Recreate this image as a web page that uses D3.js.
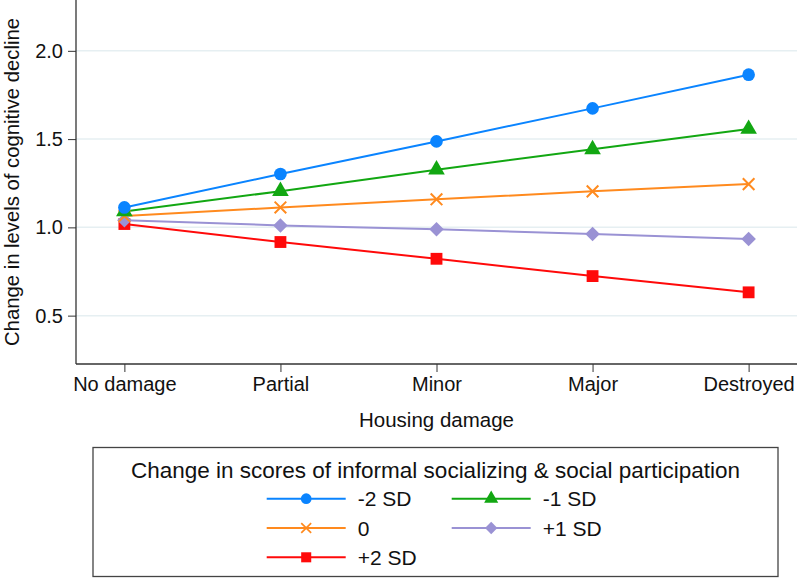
<!DOCTYPE html>
<html><head><meta charset="utf-8">
<script src="https://cdn.jsdelivr.net/npm/d3@7"></script>
<style>body{margin:0;background:#fff}svg{display:block}text{font-family:"Liberation Sans",Arial,sans-serif;fill:#111}</style>
</head><body><svg id="c" width="800" height="580"></svg>
<script>
const categories = ["No damage","Partial","Minor","Major","Destroyed"];
const yTicks = [0.5,1.0,1.5,2.0];
const seriesNames = ["-2 SD","-1 SD","0","+1 SD","+2 SD"];
const seriesColors = ["#0a84ff","#12a712","#ff8a1e","#9a92d4","#ff0a0a"];
const seriesSymbols = ["circle","triangle","x","diamond","square"];
const sMinus2 = [1.113,1.302,1.487,1.674,1.865];
const sMinus1 = [1.090,1.205,1.327,1.442,1.557];
const sZero   = [1.064,1.113,1.159,1.204,1.245];
const sPlus1  = [1.040,1.011,0.989,0.962,0.934];
const sPlus2  = [1.019,0.917,0.822,0.724,0.632];
const seriesValues = [sMinus2,sMinus1,sZero,sPlus1,sPlus2];

const svg = d3.select("#c");
const L=76, R=797, T=0, B=364;
const x = d3.scalePoint().domain(categories).range([L,R]).padding(0.31);
const y = d3.scaleLinear().domain([0.226,2.288]).range([B,T]);

svg.append("g").selectAll("line").data(yTicks).join("line")
  .attr("x1",L).attr("x2",R).attr("y1",d=>y(d)).attr("y2",d=>y(d))
  .attr("stroke","#e6eff2").attr("stroke-width",1.5);

const yAxis = svg.append("g").attr("transform",`translate(${L},0)`)
  .call(d3.axisLeft(y).tickValues(yTicks).tickFormat(d3.format(".1f")).tickSize(8).tickPadding(5));
const xAxis = svg.append("g").attr("transform",`translate(0,${B})`)
  .call(d3.axisBottom(x).tickSize(8).tickPadding(5));
[yAxis,xAxis].forEach(a=>{
  a.select(".domain").attr("stroke","#333").attr("stroke-width",1.3);
  a.selectAll(".tick line").attr("stroke","#333").attr("stroke-width",1);
  a.selectAll(".tick text").attr("font-size",20).attr("fill","#111")
    .style("font-family",'"Liberation Sans",Arial,sans-serif');
});
yAxis.select(".domain").attr("d",`M0,${T}V${B}`);
xAxis.select(".domain").attr("d",`M${L},0H${R}`);

svg.append("text").attr("transform",`translate(19,${182}) rotate(-90)`)
  .attr("text-anchor","middle").attr("font-size",20.3).text("Change in levels of cognitive decline");
svg.append("text").attr("x",(L+R)/2).attr("y",427).attr("text-anchor","middle")
  .attr("font-size",20.5).text("Housing damage");

const symMap = {circle:d3.symbolCircle,triangle:d3.symbolTriangle,x:d3.symbolTimes,diamond:d3.symbolSquare,square:d3.symbolSquare};
const symSize = {circle:125,triangle:120,x:90,diamond:105,square:140};
function marker(g,sym,color){
  const p = g.append("path").attr("d",d3.symbol().type(symMap[sym]).size(symSize[sym])());
  if(sym==="x") p.attr("fill","none").attr("stroke",color).attr("stroke-width",2);
  else p.attr("fill",color);
  if(sym==="diamond") p.attr("transform","rotate(45)");
  return p;
}

const line = d3.line().x((d,i)=>x(categories[i])).y(d=>y(d));
for(let k=seriesValues.length-1;k>=0;k--){
  svg.append("path").datum(seriesValues[k]).attr("d",line).attr("fill","none")
    .attr("stroke",seriesColors[k]).attr("stroke-width",2);
}
for(let k=seriesValues.length-1;k>=0;k--){
  seriesValues[k].forEach((v,i)=>{
    const g = svg.append("g").attr("transform",`translate(${x(categories[i])},${y(v)})`);
    marker(g,seriesSymbols[k],seriesColors[k]);
  });
}

const lg = svg.append("g");
lg.append("rect").attr("x",93).attr("y",447.5).attr("width",685).attr("height",129)
  .attr("fill","#fff").attr("stroke","#444").attr("stroke-width",1.3);
lg.append("text").attr("x",435.5).attr("y",477.5).attr("text-anchor","middle")
  .attr("font-size",22.5).text("Change in scores of informal socializing & social participation");
const legPos = [[266.7,498.7],[451.7,498.7],[266.7,528],[451.7,528],[266.7,557.3]];
seriesNames.forEach((n,k)=>{
  const [lx,ly]=legPos[k];
  lg.append("line").attr("x1",lx).attr("x2",lx+79).attr("y1",ly).attr("y2",ly)
    .attr("stroke",seriesColors[k]).attr("stroke-width",2);
  const g = lg.append("g").attr("transform",`translate(${lx+39.5},${ly}) scale(0.85)`);
  marker(g,seriesSymbols[k],seriesColors[k]);
  lg.append("text").attr("x",lx+91).attr("y",ly+7.5).attr("font-size",21).text(n);
});
</script></body></html>
